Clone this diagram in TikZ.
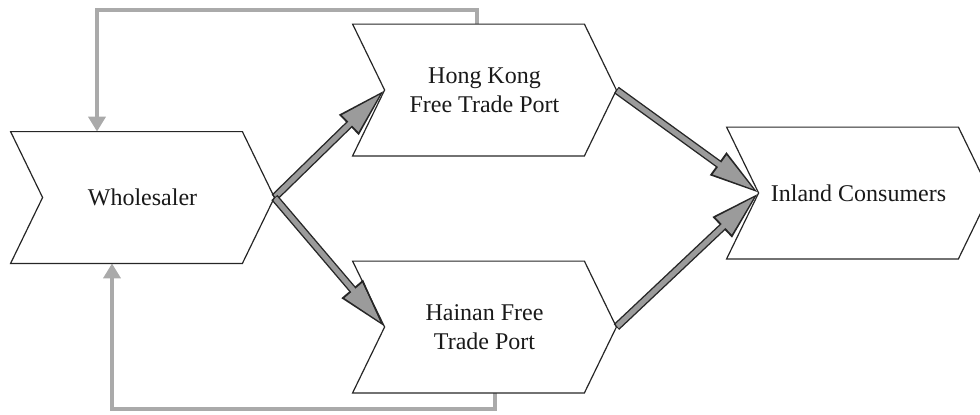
\documentclass[tikz,border=0pt]{standalone}
\usepackage{fontspec}
\setmainfont{Liberation Serif}
\usepackage{tikz}
\usetikzlibrary{calc,arrows.meta}
\def\unitLen{0.5pt}
\def\notchDepth{32}
\definecolor{shaftgray}{RGB}{155,155,155}
\definecolor{fbgray}{RGB}{170,170,170}
\tikzset{stage/.style={inner sep=0,minimum width=131.5pt,minimum height=65.5pt,align=center,text=black!90,font=\fontsize{12}{14.5}\selectfont}}
\tikzset{chevline/.style={black!85,line width=0.6pt,line join=miter}}
\tikzset{fatout/.style={black!85,line width=4pt,-{Triangle[length=25pt,width=13pt]}}}
\tikzset{fatin/.style={shaftgray,line width=2.6pt,shorten <=0.5pt,shorten >=3pt,-{Triangle[length=21pt,width=11pt]}}}
\tikzset{fback/.style={fbgray,line width=2pt,-{Triangle[length=7.5pt,width=8.5pt]}}}
\newcommand{\chev}[1]{\draw[chevline] (#1.north west)--($(#1.north east)+(-\notchDepth,0)$)--(#1.east)--($(#1.south east)+(-\notchDepth,0)$)--(#1.south west)--($(#1.west)+(\notchDepth,0)$)--cycle;}
\newcommand{\fat}[2]{\draw[fatout] #1--#2;\draw[fatin] #1--#2;}

\begin{document}
\begin{tikzpicture}[x=\unitLen,y=-\unitLen]\useasboundingbox (0,0) rectangle (980,414);
\node[stage] (whs) at (142.5,197.5) {Wholesaler};
\node[stage] (hk) at (484.5,90) {Hong Kong\\Free Trade Port};
\node[stage] (hn) at (484.5,327) {Hainan Free\\Trade Port};
\node[stage] (inl) at (858.5,193) {Inland Consumers};
\foreach \n in {hk,hn,inl}{\coordinate (in-\n) at ($(\n.west)+(\notchDepth,0)$);}
% flows
\fat{(whs.east)}{(in-hk)}
\fat{(whs.east)}{(in-hn)}
\fat{(hk.east)}{(in-inl)}
\fat{(hn.east)}{(in-inl)}
% feedback to wholesaler
\draw[fback] ($(hk.north)+(-7.5,0)$)--++(0,-14)-|($(whs.north)+(-45.5,0)$);
\draw[fback] ($(hn.south)+(10.5,0)$)--++(0,16)-|($(whs.south)+(-30.5,0)$);
\foreach \n in {whs,hk,hn,inl}{\chev{\n}}
\end{tikzpicture}
\end{document}
